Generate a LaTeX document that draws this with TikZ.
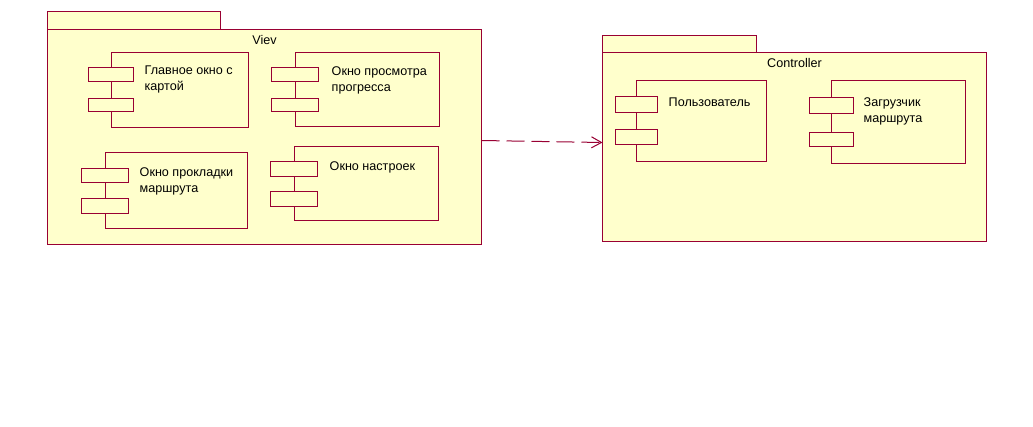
\documentclass[tikz,border=0pt]{standalone}
\usepackage{fontspec}
\setmainfont{Liberation Sans}
\usetikzlibrary{positioning,arrows.meta}
\definecolor{umlline}{RGB}{153,0,51}
\definecolor{umlfill}{RGB}{255,255,204}
\begin{document}
\begin{tikzpicture}[x=1pt,y=-1pt]
\tikzstyle{pkg}=[rectangle, draw=umlline, fill=umlfill, line width=1pt, anchor=north west, inner sep=0pt, outer sep=0pt]
\tikzstyle{comp}=[pkg]
\tikzstyle{port}=[pkg, minimum height=14pt]
\tikzstyle{txt}=[anchor=base west, inner sep=0pt, align=left, font=\fontsize{12.6}{16}\selectfont]
\tikzstyle{connect}=[-{Straight Barb[length=10pt,width=11pt]}, draw=umlline, line width=1pt, dash pattern=on 18pt off 7pt]
\useasboundingbox[fill=white] (0,0) rectangle (1033,426);
\begin{scope}[xshift=0.5pt, yshift=-0.5pt]
  % View package
  \node[pkg, minimum width=173pt, minimum height=18pt] (viewtab) at (47,11) {};
  \node[pkg, minimum width=434pt, minimum height=215pt] (view) at (47,29) {};
  \node[txt, anchor=base] (viewname) at (264,44) {Viev};
  \node[comp, minimum width=137pt, minimum height=75pt] (c1) at (111,52) {};
  \node[port, minimum width=45pt] (c1a) at (88,67) {};
  \node[port, minimum width=45pt, minimum height=13pt] (c1b) at (88,98) {};
  \node[txt] (c1t) at (144,90) {Главное окно с\\картой};
  \node[comp, minimum width=144pt, minimum height=74pt] (c2) at (295,52) {};
  \node[port, minimum width=47pt] (c2a) at (271,67) {};
  \node[port, minimum width=47pt, minimum height=13pt] (c2b) at (271,98) {};
  \node[txt] (c2t) at (331,91) {Окно просмотра\\прогресса};
  \node[comp, minimum width=142pt, minimum height=76pt] (c3) at (105,152) {};
  \node[port, minimum width=47pt] (c3a) at (81,168) {};
  \node[port, minimum width=47pt, minimum height=15pt] (c3b) at (81,198) {};
  \node[txt] (c3t) at (139,192) {Окно прокладки\\маршрута};
  \node[comp, minimum width=144pt, minimum height=74pt] (c4) at (294,146) {};
  \node[port, minimum width=47pt, minimum height=15pt] (c4a) at (270,161) {};
  \node[port, minimum width=47pt, minimum height=15pt] (c4b) at (270,191) {};
  \node[txt] (c4t) at (329,170) {Окно настроек};
  % Controller package
  \node[pkg, minimum width=154pt, minimum height=17pt] (ctrltab) at (602,35) {};
  \node[pkg, minimum width=384pt, minimum height=189pt] (ctrl) at (602,52) {};
  \node[txt, anchor=base] (ctrlname) at (794,67) {Controller};
  \node[comp, minimum width=130pt, minimum height=81pt] (c5) at (636,80) {};
  \node[port, minimum width=42pt, minimum height=16pt] (c5a) at (615,96) {};
  \node[port, minimum width=42pt, minimum height=15pt] (c5b) at (615,129) {};
  \node[txt] (c5t) at (668,106) {Пользователь};
  \node[comp, minimum width=134pt, minimum height=83pt] (c6) at (831,80) {};
  \node[port, minimum width=44pt, minimum height=16pt] (c6a) at (809,97) {};
  \node[port, minimum width=44pt, minimum height=14pt] (c6b) at (809,132) {};
  \node[txt] (c6t) at (863,122) {Загрузчик\\маршрута};
\draw[connect] ([yshift=-3.5pt]view.east) -- ([yshift=4.5pt]ctrl.west);
\end{scope}
\end{tikzpicture}
\end{document}
